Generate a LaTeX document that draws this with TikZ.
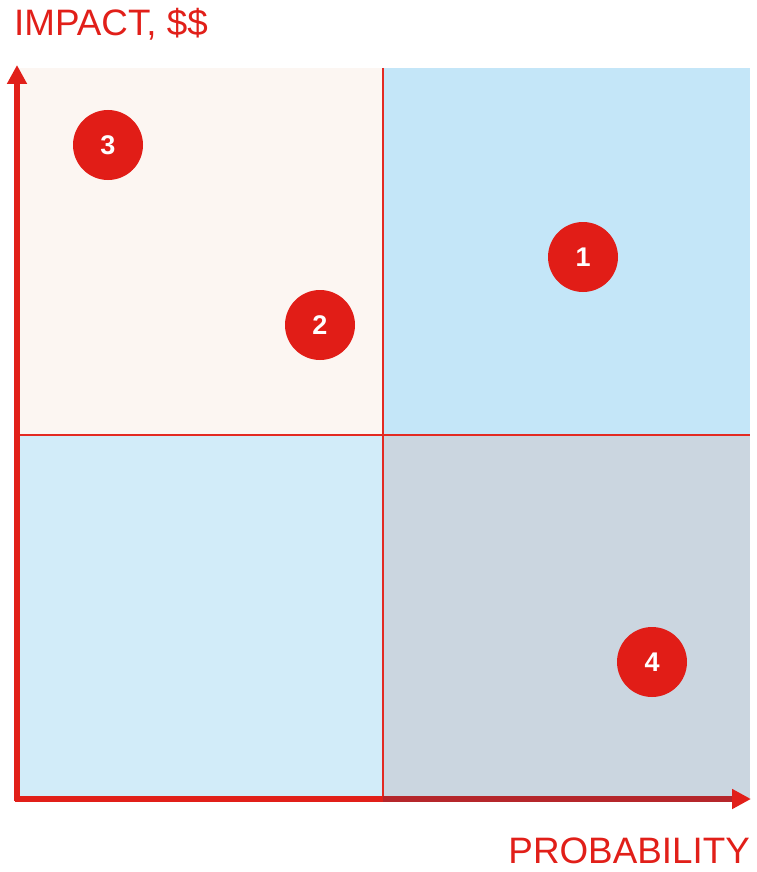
\documentclass[tikz,border=0pt]{standalone}
\usepackage{fontspec}
\setmainfont{Liberation Sans}
\usetikzlibrary{arrows.meta}
\definecolor{qTL}{HTML}{FCF6F2}
\definecolor{qTR}{HTML}{C4E6F8}
\definecolor{qBL}{HTML}{D2ECF9}
\definecolor{qBR}{HTML}{CBD6E0}
\definecolor{axred}{HTML}{E11F19}
\definecolor{axdark}{HTML}{B5262B}
\definecolor{divred}{HTML}{E32A22}
\definecolor{dotred}{HTML}{E11D17}
\tikzset{
  quad/.style={draw=none},
  divider/.style={draw=divred, line width=2.5pt},
  axis/.style={line width=5.5pt},
  dot/.style={circle, fill=dotred, minimum size=70pt, inner sep=0pt, text=white, font=\fontsize{27}{29}\selectfont\bfseries},
  axlabel/.style={inner sep=0pt, text=axred, font=\fontsize{36.8}{40}\selectfont}
}
\begin{document}
\begin{tikzpicture}[x=1pt,y=-1pt]
\useasboundingbox (0,0) rectangle (756,872);
% quadrants
\fill[qTL] (18,68) rectangle (383,435);
\fill[qTR] (383,68) rectangle (750,435);
\fill[qBL] (18,435) rectangle (383,798);
\fill[qBR] (383,435) rectangle (750,798);
% dividers
\coordinate (vt) at (383,68);
\coordinate (vb) at (383,798);
\coordinate (hl) at (18,435);
\coordinate (hr) at (750,435);
\draw[divider] (vt) -- (vb);
\draw[divider] (hl) -- (hr);
% axes
\coordinate (origin) at (14.5,799);
\coordinate (ytop) at (17,65);
\coordinate (ybot) at (17,801);
\coordinate (xmid) at (383,799);
\coordinate (xend) at (751,799);
\draw[axis, axred, -{Triangle[length=19pt,width=19pt]}] (ybot) -- (ytop);
\draw[axis, axred] (origin) -- (xmid);
\draw[axis, axdark, -{Triangle[length=19pt,width=19pt,color=axred]}] (xmid) -- (xend);
% labels
\node[axlabel, anchor=base west] (impact) at (14,36) {IMPACT, \$\$};
\node[axlabel, anchor=base east] (prob) at (750,863) {PROBABILITY};
% dots
\node[dot] (d3) at (108,145) {3};
\node[dot] (d2) at (320,325) {2};
\node[dot] (d1) at (583,257) {1};
\node[dot] (d4) at (652,662) {4};
\end{tikzpicture}
\end{document}
